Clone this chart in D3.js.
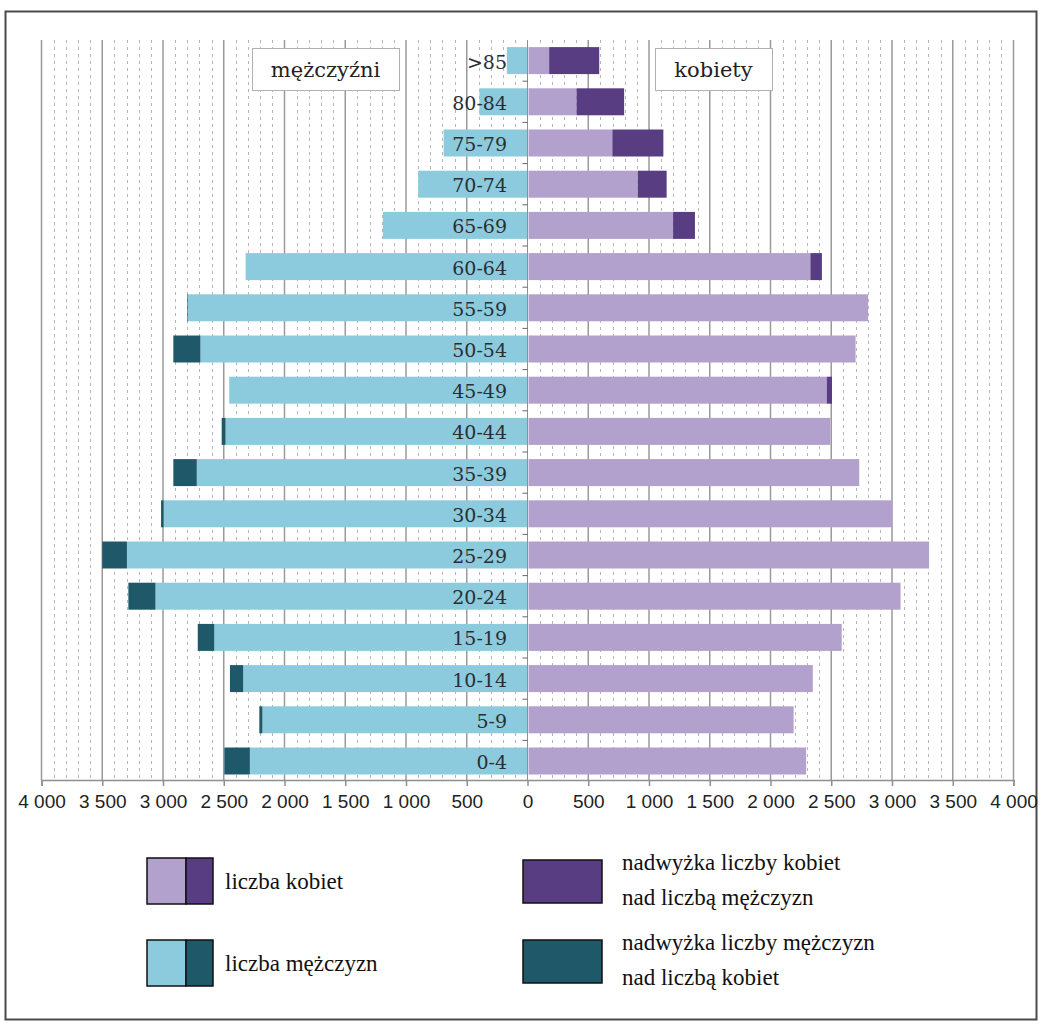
<!DOCTYPE html>
<html lang="pl">
<head>
<meta charset="utf-8">
<script src="https://cdn.jsdelivr.net/npm/d3@7"></script>
<style>
  html, body { margin: 0; padding: 0; background: #fff; }
  svg { display: block; }
</style>
</head>
<body>
<script>
// Struktura ludności według płci i wieku
const ageGroups = [">85", "80-84", "75-79", "70-74", "65-69", "60-64", "55-59", "50-54", "45-49",
                   "40-44", "35-39", "30-34", "25-29", "20-24", "15-19", "10-14", "5-9", "0-4"];
const men   = [170, 396, 690, 900, 1190, 2320, 2800, 2915, 2455, 2517, 2915, 3016, 3500, 3285, 2714, 2449, 2207, 2495];
const women = [582, 787, 1110, 1137, 1370, 2415, 2795, 2692, 2498, 2485, 2722, 2995, 3297, 3062, 2578, 2340, 2182, 2285];
const xTicks = d3.range(-4000, 4001, 500);

const colors = {
  menLight: "#8ccbdd",
  menDark: "#1f5868",
  womenLight: "#b2a1cc",
  womenDark: "#583d82"
};

const W = 1042, H = 1025;
const svg = d3.select("body").append("svg").attr("width", W).attr("height", H);

// outer frame
svg.append("rect")
  .attr("x", 5.5).attr("y", 11.5).attr("width", 1031).attr("height", 1008)
  .attr("fill", "#fff").attr("stroke", "#4a4a4a").attr("stroke-width", 2);

const x = d3.scaleLinear().domain([-4000, 4000]).range([41.5, 1013.5]);
const y = d3.scaleBand().domain(ageGroups).range([40, 781.6]).paddingInner(0.345).paddingOuter(0.1725);
const plotTop = 40, plotBottom = 780;

// minor grid (every 100)
const minor = d3.range(-4000, 4001, 100).filter(v => v % 500 !== 0);
svg.append("g").selectAll("line").data(minor).join("line")
  .attr("x1", d => Math.round(x(d)) + 0.5).attr("x2", d => Math.round(x(d)) + 0.5)
  .attr("y1", plotTop).attr("y2", plotBottom)
  .attr("stroke", "#b5b5b5").attr("stroke-width", 1).attr("stroke-dasharray", "3,4");

// major grid (every 500)
svg.append("g").selectAll("line").data(xTicks.filter(d => d !== 0)).join("line")
  .attr("x1", d => x(d)).attr("x2", d => x(d))
  .attr("y1", plotTop).attr("y2", plotBottom)
  .attr("stroke", "#9a9a9a").attr("stroke-width", 1.5);

// bars
const rows = ageGroups.map((g, i) => ({ g, m: men[i], w: women[i], common: Math.min(men[i], women[i]) }));
const bars = svg.append("g");
const bh = y.bandwidth();

bars.selectAll("rect.ml").data(rows).join("rect").attr("class", "ml")
  .attr("x", d => x(-d.common)).attr("width", d => x(0) - x(-d.common))
  .attr("y", d => y(d.g)).attr("height", bh).attr("fill", colors.menLight);
bars.selectAll("rect.md").data(rows.filter(d => d.m > d.w)).join("rect").attr("class", "md")
  .attr("x", d => x(-d.m)).attr("width", d => x(-d.common) - x(-d.m))
  .attr("y", d => y(d.g)).attr("height", bh).attr("fill", colors.menDark);
bars.selectAll("rect.wl").data(rows).join("rect").attr("class", "wl")
  .attr("x", x(0) + 1).attr("width", d => x(d.common) - x(0))
  .attr("y", d => y(d.g)).attr("height", bh).attr("fill", colors.womenLight);
bars.selectAll("rect.wd").data(rows.filter(d => d.w > d.m)).join("rect").attr("class", "wd")
  .attr("x", d => x(d.common) + 1).attr("width", d => x(d.w) - x(d.common))
  .attr("y", d => y(d.g)).attr("height", bh).attr("fill", colors.womenDark);

// zero axis with small ticks between age groups
svg.append("line")
  .attr("x1", x(0)).attr("x2", x(0)).attr("y1", plotTop).attr("y2", plotBottom)
  .attr("stroke", "#8f8f8f").attr("stroke-width", 1);
const bounds = d3.range(ageGroups.length + 1).map(i => y.range()[0] + i * y.step());
svg.append("g").selectAll("line").data(bounds.slice(1, -1)).join("line")
  .attr("x1", x(0) - 5).attr("x2", x(0)).attr("y1", d => d).attr("y2", d => d)
  .attr("stroke", "#666").attr("stroke-width", 1);

// age labels
svg.append("g").selectAll("text").data(ageGroups).join("text")
  .attr("x", 507).attr("y", d => y(d) + bh / 2 + 1)
  .attr("text-anchor", "end").attr("dominant-baseline", "central")
  .attr("font-family", "'DejaVu Serif', serif").attr("font-size", 19)
  .attr("fill", "#2a2f33")
  .text(d => d);

// x axis
const fmt = v => {
  const a = Math.abs(v);
  return a >= 1000 ? Math.floor(a / 1000) + " " + String(a % 1000).padStart(3, "0") : String(a);
};
const xAxis = d3.axisBottom(x).tickValues(xTicks).tickSize(6).tickFormat(fmt);
const gx = svg.append("g").attr("transform", `translate(0,${plotBottom})`).call(xAxis);
gx.select(".domain").attr("stroke", "#8f8f8f").attr("stroke-width", 1.5);
gx.selectAll(".tick line").attr("stroke", "#8f8f8f").attr("stroke-width", 1.5);
gx.selectAll(".tick text")
  .attr("y", 15).attr("font-family", "'Liberation Sans', sans-serif")
  .attr("font-size", 19).attr("fill", "#222");

// side titles
const titleBoxes = [
  { label: "mężczyźni", x0: 252, x1: 399 },
  { label: "kobiety", x0: 655, x1: 772 }
];
const tb = svg.append("g").selectAll("g").data(titleBoxes).join("g");
tb.append("rect")
  .attr("x", d => d.x0 + 0.5).attr("y", 48.5).attr("width", d => d.x1 - d.x0).attr("height", 42)
  .attr("fill", "#fff").attr("stroke", "#b0b0b0").attr("stroke-width", 1);
tb.append("text")
  .attr("x", d => (d.x0 + d.x1) / 2).attr("y", 70)
  .attr("text-anchor", "middle").attr("dominant-baseline", "central")
  .attr("font-family", "'DejaVu Serif', serif").attr("font-size", 21).attr("fill", "#222")
  .text(d => d.label);

// legend
const legend = svg.append("g").attr("font-family", "'Liberation Serif', serif").attr("font-size", 23).attr("fill", "#111");
const pairItems = [
  { label: "liczba kobiet", light: colors.womenLight, dark: colors.womenDark, y0: 858 },
  { label: "liczba mężczyzn", light: colors.menLight, dark: colors.menDark, y0: 940 }
];
pairItems.forEach(it => {
  legend.append("rect").attr("x", 147).attr("y", it.y0).attr("width", 39).attr("height", 46)
    .attr("fill", it.light).attr("stroke", "#111").attr("stroke-width", 1.5);
  legend.append("rect").attr("x", 186).attr("y", it.y0).attr("width", 27).attr("height", 46)
    .attr("fill", it.dark).attr("stroke", "#111").attr("stroke-width", 1.5);
  legend.append("text").attr("x", 225).attr("y", it.y0 + 23).attr("dominant-baseline", "central").text(it.label);
});
const excessItems = [
  { lines: ["nadwyżka liczby kobiet", "nad liczbą mężczyzn"], color: colors.womenDark, y0: 860 },
  { lines: ["nadwyżka liczby mężczyzn", "nad liczbą kobiet"], color: colors.menDark, y0: 940 }
];
excessItems.forEach(it => {
  legend.append("rect").attr("x", 523).attr("y", it.y0).attr("width", 79).attr("height", 43)
    .attr("fill", it.color).attr("stroke", "#111").attr("stroke-width", 1.5);
  it.lines.forEach((ln, k) => {
    legend.append("text").attr("x", 622).attr("y", it.y0 + 2 + k * 35)
      .attr("dominant-baseline", "central").text(ln);
  });
});
</script>
</body>
</html>
